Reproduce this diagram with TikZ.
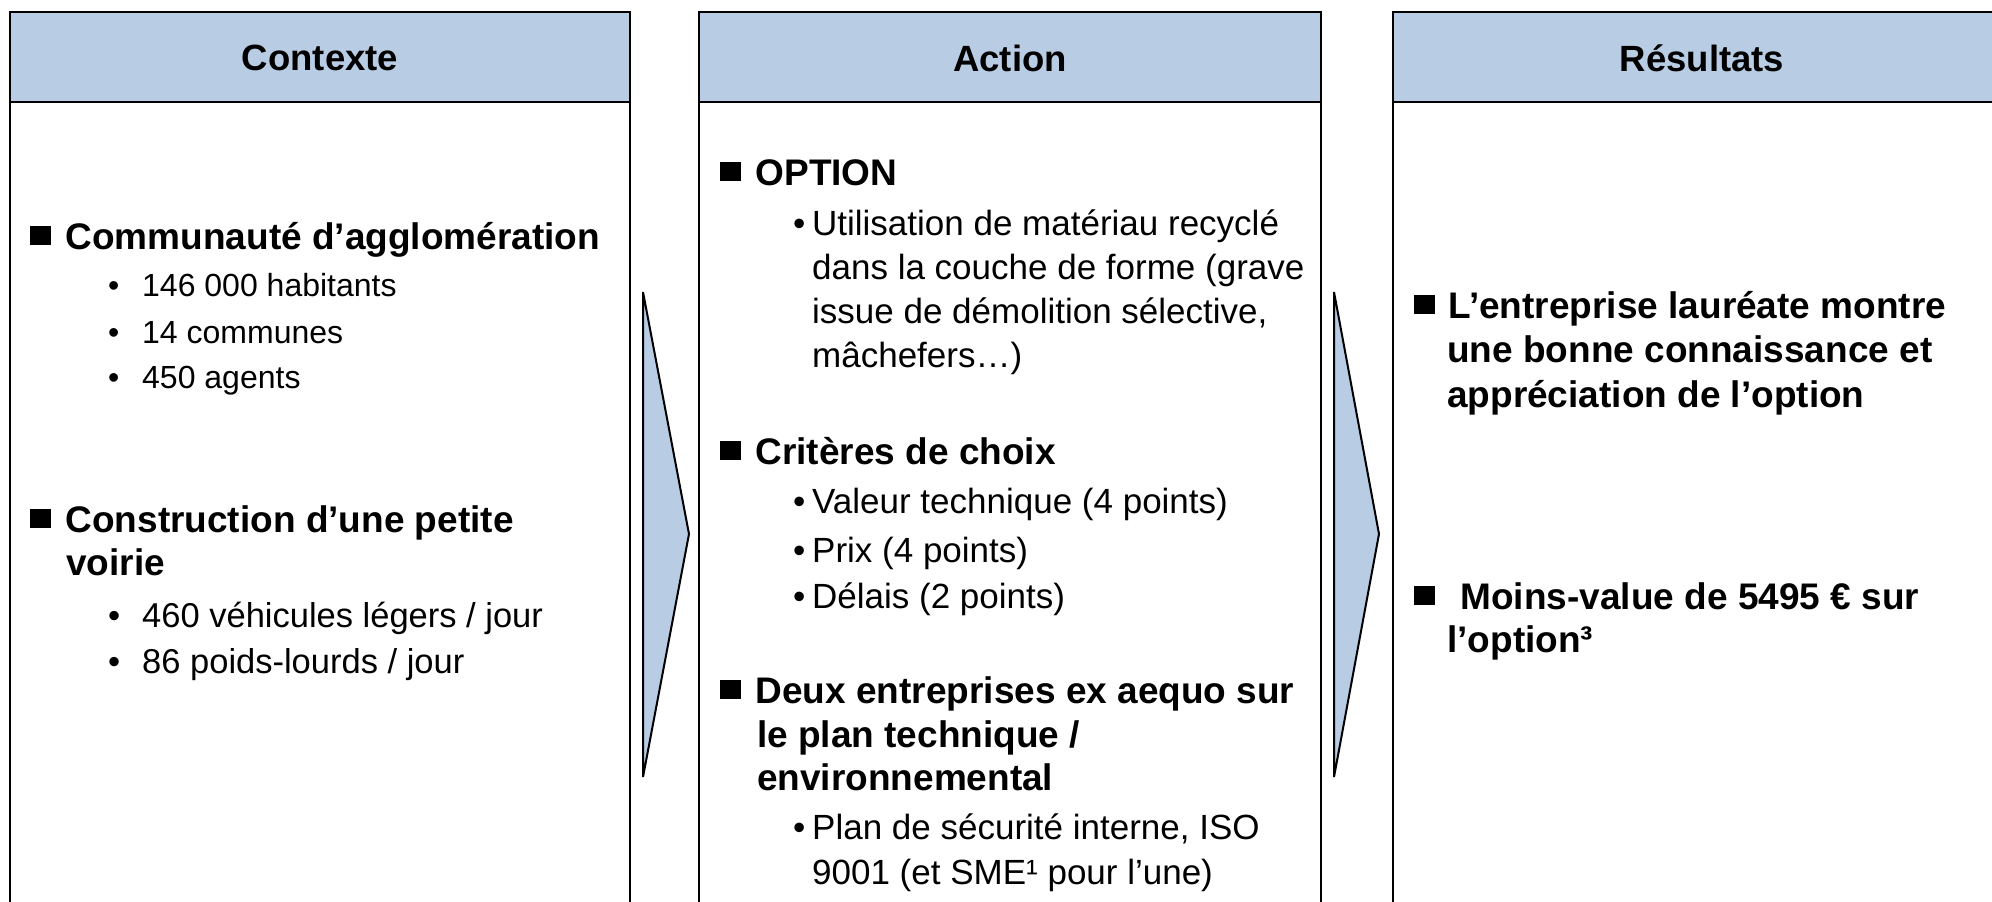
\documentclass[tikz,border=0pt]{standalone}
\usepackage{fontspec}
\setmainfont{Liberation Sans}
\definecolor{bleu}{RGB}{184,204,228}
\newcommand{\carre}{\rule[0.11em]{0.55em}{0.5em}}
\newcommand{\point}[1][34pt]{\makebox[#1][l]{•}}

\tikzset{
  cadre/.style={draw=black, line width=2pt},
  entete/.style={cadre, fill=bleu},
  fleche/.style={draw=black, line width=2pt, fill=bleu, line join=miter},
  titre/.style={font=\bfseries\fontsize{36.5}{43}\selectfont},
  gras/.style={font=\bfseries\fontsize{37}{43}\selectfont, anchor=base west, inner sep=0pt},
  texte/.style={font=\fontsize{35}{44}\selectfont, anchor=base west, inner sep=0pt},
  petit/.style={texte, font=\fontsize{32}{44}\selectfont},
  moyen/.style={texte, font=\fontsize{34.5}{44}\selectfont},
}

\begin{document}
\begin{tikzpicture}[x=1pt,y=-1pt]

\useasboundingbox (0,0) rectangle (1992,902);
\clip (0,0) rectangle (1992,902);

\def\gauche{(10,12) rectangle (630,930)}
\def\milieu{(699,12) rectangle (1321,930)}
\def\droite{(1393,12) rectangle (2011,930)}

\draw[cadre] \gauche;
\draw[cadre] \milieu;
\draw[cadre] \droite;

\filldraw[entete] (10,12) rectangle (630,102);
\filldraw[entete] (699,12) rectangle (1321,102);
\filldraw[entete] (1393,12) rectangle (2011,102);

\node[titre] (contexte) at (320,58) {Contexte};
\node[titre] (action) at (1010,58) {Action};
\node[titre] (resultats) at (1702,58) {Résultats};

\filldraw[fleche] (643,292) -- (689,534) -- (643,777) -- cycle;
\filldraw[fleche] (1334,292) -- (1379,534) -- (1334,777) -- cycle;

% Contexte
\node[gras] (agglo) at (30,249) {\carre\hspace{15pt}Communauté d’agglomération};
\node[petit] (hab) at (108,296) {\point 146 000 habitants};
\node[petit] (communes) at (108,343) {\point 14 communes};
\node[petit] (agents) at (108,388) {\point 450 agents};
\node[gras] (voirie) at (30,532) {\carre\hspace{15pt}Construction d’une petite};
\node[gras] (voirie2) at (66,575) {voirie};
\node[moyen] (vl) at (108,627) {\point 460 véhicules légers / jour};
\node[moyen] (pl) at (108,673) {\point 86 poids-lourds / jour};

% Action
\node[gras] (option) at (720,185) {\carre\hspace{15pt}OPTION};
\node[texte] (recy) at (793,235) {\point[19pt]Utilisation de matériau recyclé};
\node[texte] (recy2) at (812,279) {dans la couche de forme (grave};
\node[texte] (recy3) at (812,323) {issue de démolition sélective,};
\node[texte] (recy4) at (812,367) {mâchefers…)};
\node[gras] (criteres) at (720,464) {\carre\hspace{15pt}Critères de choix};
\node[texte] (valeur) at (793,513) {\point[19pt]Valeur technique (4 points)};
\node[texte] (prix) at (793,562) {\point[19pt]Prix (4 points)};
\node[texte] (delais) at (793,608) {\point[19pt]Délais (2 points)};
\node[gras] (deux) at (720,703) {\carre\hspace{15pt}Deux entreprises ex aequo sur};
\node[gras] (deux2) at (757,747) {le plan technique /};
\node[gras] (deux3) at (757,790) {environnemental};
\node[texte] (plan) at (793,839) {\point[19pt]Plan de sécurité interne, ISO};
\node[texte] (plan2) at (812,884) {9001 (et SME¹ pour l’une)};

% Resultats
\node[gras] (laureat) at (1414,318) {\carre\hspace{14pt}L’entreprise lauréate montre};
\node[gras] (laureat2) at (1447,362) {une bonne connaissance et};
\node[gras] (laureat3) at (1447,407) {appréciation de l’option};
\node[gras] (moins) at (1414,609) {\carre\hspace{26pt}Moins-value de 5495 € sur};
\node[gras] (moins2) at (1447,652) {l’option³};

\end{tikzpicture}
\end{document}
